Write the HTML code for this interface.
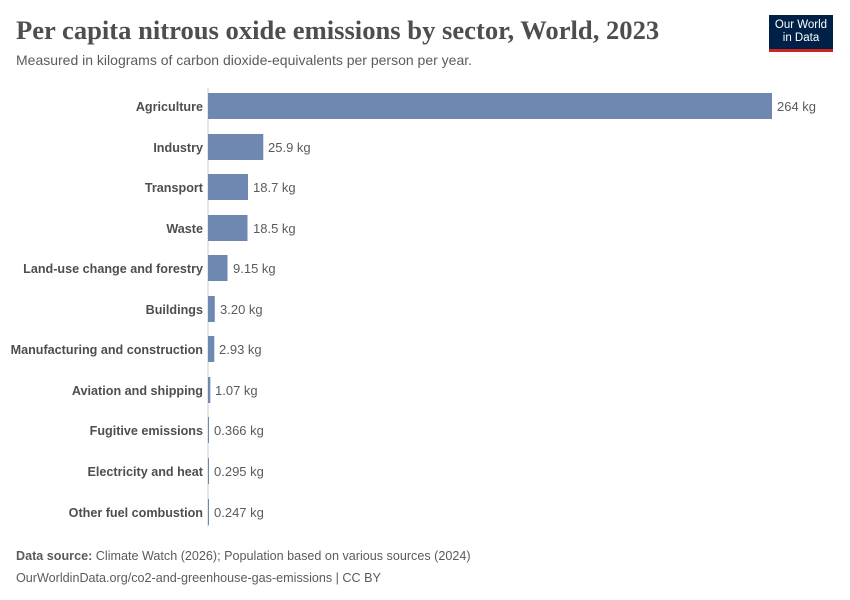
<!DOCTYPE html><html><head><meta charset="utf-8"><style>
body{margin:0;width:850px;height:600px;background:#fff;font-family:"Liberation Sans",sans-serif;position:relative;overflow:hidden}
.t{position:absolute;white-space:nowrap}
</style></head><body>
<div class="t" style="left:16px;top:15px;font-family:'Liberation Serif',serif;font-size:26.6px;font-weight:bold;color:#4e4e4e">Per capita nitrous oxide emissions by sector, World, 2023</div>
<div class="t" style="left:16px;top:52px;font-size:14px;color:#5b5b5b">Measured in kilograms of carbon dioxide-equivalents per person per year.</div>
<div style="position:absolute;left:769px;top:15px;width:64px;background:#002147;border-bottom:3px solid #ce261e;color:#fff;font-size:11.5px;line-height:13px;text-align:center;padding-top:4px;height:30px">Our World<br>in Data</div>
<svg width="850" height="600" style="position:absolute;left:0;top:0" font-family="Liberation Sans, sans-serif" font-size="13">
<line x1="208" y1="88" x2="208" y2="527" stroke="#ccc"/>
<g fill="#6f88b2">
<rect x="208" y="93" width="564" height="26"/>
<rect x="208" y="134" width="55.3" height="26"/>
<rect x="208" y="174" width="40" height="26"/>
<rect x="208" y="215" width="39.5" height="26"/>
<rect x="208" y="255" width="19.5" height="26"/>
<rect x="208" y="296" width="6.8" height="26"/>
<rect x="208" y="336" width="6.3" height="26"/>
<rect x="208" y="377" width="2.3" height="26"/>
<rect x="208" y="417" width="1" height="26"/>
<rect x="208" y="458" width="1" height="26"/>
<rect x="208" y="499" width="1" height="26"/>
</g>
<g fill="#4e4e4e" text-anchor="end" font-weight="bold" font-size="12.6">
<text x="203" y="111">Agriculture</text>
<text x="203" y="152">Industry</text>
<text x="203" y="192">Transport</text>
<text x="203" y="233">Waste</text>
<text x="203" y="273">Land-use change and forestry</text>
<text x="203" y="314">Buildings</text>
<text x="203" y="354">Manufacturing and construction</text>
<text x="203" y="395">Aviation and shipping</text>
<text x="203" y="435">Fugitive emissions</text>
<text x="203" y="476">Electricity and heat</text>
<text x="203" y="517">Other fuel combustion</text>
</g>
<g fill="#5b5b5b">
<text x="777" y="111">264 kg</text>
<text x="268" y="152">25.9 kg</text>
<text x="253" y="192">18.7 kg</text>
<text x="253" y="233">18.5 kg</text>
<text x="233" y="273">9.15 kg</text>
<text x="220" y="314">3.20 kg</text>
<text x="219" y="354">2.93 kg</text>
<text x="215" y="395">1.07 kg</text>
<text x="214" y="435">0.366 kg</text>
<text x="214" y="476">0.295 kg</text>
<text x="214" y="517">0.247 kg</text>
</g>
<text x="16" y="560" fill="#5b5b5b" font-size="12.6"><tspan font-weight="bold">Data source:</tspan> Climate Watch (2026); Population based on various sources (2024)</text>
<text x="16" y="582" fill="#5b5b5b" font-size="12.6">OurWorldinData.org/co2-and-greenhouse-gas-emissions | CC BY</text>
</svg>
</body></html>
